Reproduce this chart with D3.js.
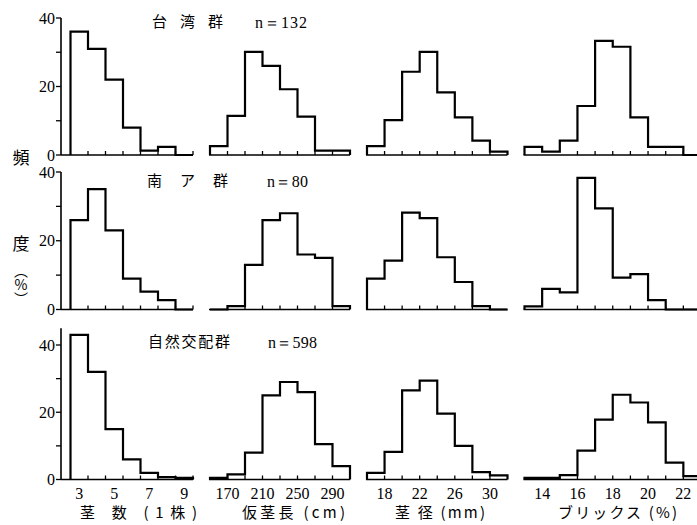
<!DOCTYPE html>
<html><head><meta charset="utf-8">
<script src="https://cdn.jsdelivr.net/npm/d3@7"></script>
<style>body{margin:0;background:#fff}svg{display:block}</style>
</head><body>
<svg id="c" width="697" height="525"></svg>
<script>
// ---------- data ----------
const groups = ["台 湾 群", "南 ア 群", "自然交配群"];
const groupN = ["132", "80", "598"];

const stemCenters = [3, 4, 5, 6, 7, 8, 9];                 // 茎数 (1株)
const lengthEdges = [150, 170, 190, 210, 230, 250, 270, 290]; // 仮茎長 (cm), width 20
const diamEdges = [16, 18, 20, 22, 24, 26, 28, 30];          // 茎径 (mm), width 2
const brixEdges = [13, 14, 15, 16, 17, 18, 19, 20, 21, 22];  // ブリックス (%), width 1

// 台湾群
const taiwanStem   = [36, 31, 22, 8, 1.3, 2.4, 0];
const taiwanLength = [2.6, 11.4, 30.1, 26, 19.2, 11.2, 1.3, 1.3];
const taiwanDiam   = [2.6, 10.2, 24.3, 30.1, 18.3, 11, 4.2, 1];
const taiwanBrix   = [2.4, 1, 4.2, 14.3, 33.3, 31.6, 11, 2.4, 2.4, 0];
// 南ア群
const saStem   = [26, 35, 23, 9, 5.2, 2.7, 0];
const saLength = [0, 1, 13, 26, 28, 16, 15, 1];
const saDiam   = [9, 14.2, 28.2, 26.6, 15.2, 8, 1, 0];
const saBrix   = [0.9, 6, 5, 38.3, 29.4, 9.3, 10.3, 2.7, 0, 0];
// 自然交配群
const natStem   = [43, 32, 15, 6, 2, 0.7, 0.5];
const natLength = [0.5, 1.5, 8, 25, 29, 26, 10.5, 4];
const natDiam   = [2, 8.2, 26.5, 29.4, 19.6, 10, 2.2, 1.2];
const natBrix   = [0.5, 0.5, 1.3, 8.6, 17.8, 25.2, 22.9, 17, 5, 1];

const stemTicks = [3.5, 4.5, 5.5, 6.5, 7.5, 8.5, 9.5];
const lengthTicks = [170, 190, 210, 230, 250, 270, 290];
const diamTicks = [18, 20, 22, 24, 26, 28, 30];
const brixTicks = [16, 17, 18, 19, 20, 21, 22];

const stemLabels = [3, 5, 7, 9];
const lengthLabels = [170, 210, 250, 290];
const diamLabels = [18, 22, 26, 30];
const brixLabels = [14, 16, 18, 20, 22];

const yTicks = [0, 10, 20, 30, 40];
const yLabels = [0, 20, 40];
const axisTitles = ["茎 数 (1株)", "仮茎長 (cm)", "茎 径 (mm)", "ブリックス (%)"];

const rowValues = [
  [taiwanStem, taiwanLength, taiwanDiam, taiwanBrix],
  [saStem, saLength, saDiam, saBrix],
  [natStem, natLength, natDiam, natBrix]
];

// ---------- layout ----------
const SERIF = "'Liberation Serif','DejaVu Serif',serif";
const CJK = "'Noto Sans CJK JP','Noto Sans CJK SC',sans-serif";
const W = 697;

const vars = [
  {lo: stemCenters.map(c => c - 0.5), w: 1, domain: [2.5, 9.5], range: [70.5, 193], ticks: stemTicks, labels: stemLabels},
  {lo: lengthEdges, w: 20, domain: [150, 310], range: [210, 350], ticks: lengthTicks, labels: lengthLabels},
  {lo: diamEdges, w: 2, domain: [16, 32], range: [367, 507.5], ticks: diamTicks, labels: diamLabels},
  {lo: brixEdges, w: 1, domain: [13, 23], range: [524.5, 701], ticks: brixTicks, labels: brixLabels}
];
const rows = [
  {y0: 155, y40: 18, top: 40, ty: 22, tx: [152, 223], nx: [255, 307]},
  {y0: 309.5, y40: 172, top: 40, ty: 181, tx: [147, 228], nx: [267, 308]},
  {y0: 479.5, y40: 345, top: 45, ty: 342, tx: [148, 230], nx: [268, 317]}
];
const axisX = 61;

const svg = d3.select("#c");
svg.append("rect").attr("width", W).attr("height", 525).attr("fill", "#fff");

const line = d3.line();

rows.forEach((row, ri) => {
  const y = d3.scaleLinear().domain([0, 40]).range([row.y0, row.y40]);
  const g = svg.append("g");

  // y axis
  g.append("line").attr("x1", axisX).attr("x2", axisX)
    .attr("y1", y(0)).attr("y2", y(row.top))
    .attr("stroke", "#000").attr("stroke-width", 1.6);
  yTicks.forEach(t => {
    g.append("line").attr("x1", axisX - 5).attr("x2", axisX)
      .attr("y1", y(t)).attr("y2", y(t)).attr("stroke", "#000").attr("stroke-width", 1.3);
  });
  yLabels.forEach(t => {
    g.append("text").attr("x", axisX - 6).attr("y", y(t)).attr("dy", "0.35em")
      .attr("text-anchor", "end").attr("font-family", SERIF).attr("font-size", 16)
      .text(t);
  });

  vars.forEach((v, ci) => {
    const x = d3.scaleLinear().domain(v.domain).range(v.range);
    const vals = rowValues[ri][ci];
    // baseline
    const bx0 = ci === 0 ? axisX : x(v.domain[0]) - 1;
    const bx1 = Math.min(x(v.domain[1]), W);
    g.append("line").attr("x1", bx0).attr("x2", bx1).attr("y1", y(0)).attr("y2", y(0))
      .attr("stroke", "#000").attr("stroke-width", 1.3);
    // ticks
    v.ticks.forEach(t => {
      g.append("line").attr("x1", x(t)).attr("x2", x(t)).attr("y1", y(0)).attr("y2", y(0) - 4)
        .attr("stroke", "#000").attr("stroke-width", 1.3);
    });
    // step histogram
    const pts = [[x(v.lo[0]), y(0)]];
    vals.forEach((val, i) => {
      pts.push([x(v.lo[i]), y(val)]);
      pts.push([x(v.lo[i] + v.w), y(val)]);
    });
    pts.push([x(v.lo[vals.length - 1] + v.w), y(0)]);
    g.append("path").attr("d", line(pts)).attr("fill", "none")
      .attr("stroke", "#000").attr("stroke-width", 2.2).attr("stroke-linejoin", "miter");

    // bottom tick labels (last row)
    if (ri === rows.length - 1) {
      v.labels.forEach(t => {
        g.append("text").attr("x", x(t)).attr("y", 493).attr("dy", "0.35em")
          .attr("text-anchor", "middle").attr("font-family", SERIF).attr("font-size", 16)
          .text(t);
      });
    }
  });

  // group title
  g.append("text").attr("x", row.tx[0]).attr("y", row.ty).attr("dy", "0.35em")
    .attr("font-family", CJK).attr("font-size", 15)
    .attr("textLength", row.tx[1] - row.tx[0]).attr("lengthAdjust", "spacing")
    .text(groups[ri]);
  g.append("text").attr("x", row.nx[0]).attr("y", row.ty).attr("dy", "0.35em")
    .attr("font-family", SERIF).attr("font-size", 16)
    .attr("textLength", row.nx[1] - row.nx[0]).attr("lengthAdjust", "spacing")
    .text("n＝" + groupN[ri]);
});

// x axis titles
const titlePos = [[80, 197], [242, 345], [395, 485], [558, 677]];
axisTitles.forEach((t, i) => {
  svg.append("text").attr("x", titlePos[i][0]).attr("y", 513).attr("dy", "0.35em")
    .attr("font-family", CJK).attr("font-size", 15)
    .attr("textLength", titlePos[i][1] - titlePos[i][0]).attr("lengthAdjust", "spacing")
    .text(t);
});

// y axis title (vertical)
[["頻", 158], ["度", 244]].forEach(([ch, yy]) => {
  svg.append("text").attr("x", 21).attr("y", yy).attr("dy", "0.35em")
    .attr("text-anchor", "middle").attr("font-family", CJK).attr("font-size", 17)
    .text(ch);
});
svg.append("text").attr("x", 21).attr("y", 264)
  .attr("font-family", CJK).attr("font-size", 14)
  .style("writing-mode", "vertical-rl").style("text-orientation", "upright")
  .text("（%）");
</script>
</body></html>
